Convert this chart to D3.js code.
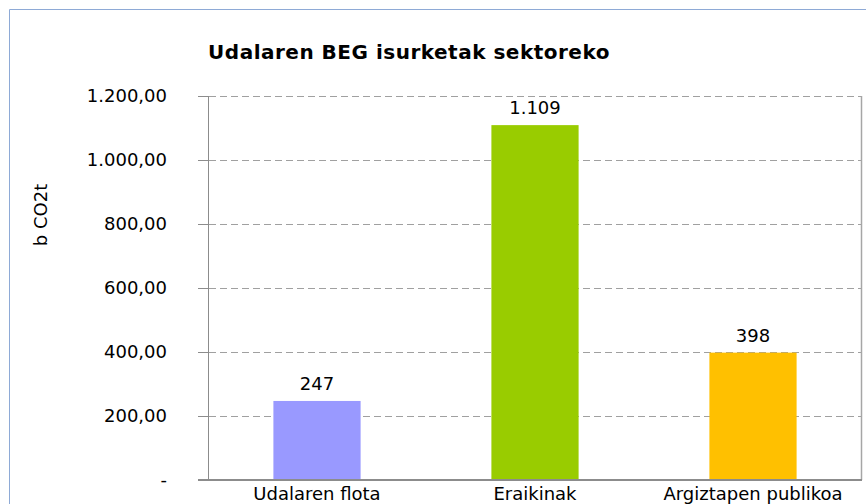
<!DOCTYPE html>
<html><head><meta charset="utf-8">
<script src="https://cdn.jsdelivr.net/npm/d3@7"></script>
<style>html,body{margin:0;padding:0;background:#fff;}svg{display:block;}</style>
</head><body>
<script>
const categories = ["Udalaren flota", "Eraikinak", "Argiztapen publikoa"];
const values = [247, 1109, 398];
const colors = ["#9999ff", "#99cc00", "#ffc000"];
const yTicks = [0, 200, 400, 600, 800, 1000, 1200];
const title = "Udalaren BEG isurketak sektoreko";
const yLabel = "b CO2t";

const W = 866, H = 504;
const m = {left: 208, right: 4, top: 96, bottom: 24};
const svg = d3.select("body").append("svg").attr("width", W).attr("height", H);
const font = "'DejaVu Sans', Verdana, sans-serif";

const loc = d3.formatLocale({decimal: ",", thousands: ".", grouping: [3], currency: ["", ""]});
const fTick = loc.format(",.2f");
const fVal = loc.format(",.0f");

// outer frame
svg.append("path").attr("d", `M9.5,${H} V9.5 H${W}`).attr("fill", "none").attr("stroke", "#8eaad6").attr("stroke-width", 1);

const x = d3.scaleBand().domain(categories).range([m.left, W - m.right]).paddingInner(0.6).paddingOuter(0.3);
const y = d3.scaleLinear().domain([0, 1200]).range([H - m.bottom, m.top]);

// gridlines
svg.append("g").selectAll("line").data(yTicks.filter(d => d > 0)).join("line")
  .attr("x1", m.left - 10).attr("x2", W - m.right)
  .attr("y1", d => Math.round(y(d)) + 0.5).attr("y2", d => Math.round(y(d)) + 0.5)
  .attr("stroke", "#a0a0a0").attr("stroke-width", 1).attr("stroke-dasharray", "7,4");

// y-axis
const yAxis = d3.axisLeft(y).tickValues(yTicks).tickSize(0).tickPadding(41)
  .tickFormat(d => d === 0 ? "-" : fTick(d));
const ga = svg.append("g").attr("transform", `translate(${m.left},0)`).call(yAxis);
ga.select(".domain").remove();
ga.selectAll("text").attr("font-family", font).attr("font-size", 18).attr("fill", "#000");
ga.selectAll(".tick").append("line").attr("x1", -10).attr("x2", 0).attr("stroke", "#8c8c8c");

// axis lines
svg.append("line").attr("x1", m.left + 0.5).attr("x2", m.left + 0.5).attr("y1", y(1200)).attr("y2", y(0))
  .attr("stroke", "#8c8c8c").attr("stroke-width", 1);
svg.append("line").attr("x1", W - m.right - 0.5).attr("x2", W - m.right - 0.5).attr("y1", y(1200)).attr("y2", y(0))
  .attr("stroke", "#a6a6a6").attr("stroke-width", 1.5);

// bars
svg.append("g").selectAll("rect").data(values).join("rect")
  .attr("x", (d, i) => x(categories[i])).attr("width", x.bandwidth())
  .attr("y", d => y(d)).attr("height", d => y(0) - y(d))
  .attr("fill", (d, i) => colors[i]);

// baseline
svg.append("line").attr("x1", m.left - 10).attr("x2", W - m.right).attr("y1", y(0)).attr("y2", y(0))
  .attr("stroke", "#8c8c8c").attr("stroke-width", 2);

// value labels
svg.append("g").selectAll("text").data(values).join("text")
  .attr("x", (d, i) => x(categories[i]) + x.bandwidth() / 2).attr("y", d => y(d) - 11)
  .attr("text-anchor", "middle").attr("font-family", font).attr("font-size", 18).attr("fill", "#000")
  .text(d => fVal(d));

// x labels
const xAxis = d3.axisBottom(x).tickSize(0).tickPadding(7);
const gx = svg.append("g").attr("transform", `translate(0,${y(0)})`).call(xAxis);
gx.select(".domain").remove();
gx.selectAll("text").attr("font-family", font).attr("font-size", 18).attr("fill", "#000");

// title
svg.append("text").attr("x", 409).attr("y", 59).attr("text-anchor", "middle")
  .attr("font-family", font).attr("font-weight", "bold").attr("font-size", 20)
  .attr("letter-spacing", 0.5).attr("fill", "#000")
  .text(title);

// y label
svg.append("text").attr("transform", "translate(47,215) rotate(-90)").attr("text-anchor", "middle")
  .attr("font-family", font).attr("font-size", 18).attr("fill", "#000").text(yLabel);
</script>
</body></html>
